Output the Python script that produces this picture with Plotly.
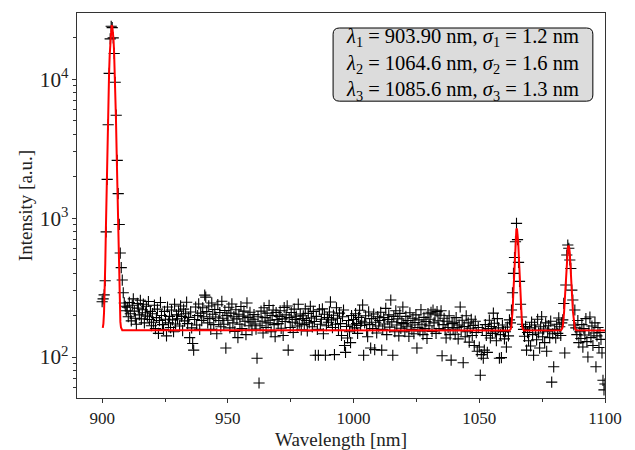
import plotly.graph_objects as go

# ---------------- data ----------------
wl_start = 900.0
wl_step = 0.4

intensity = [
    250, 262, 280, 354, 795, 1900, 4700, 11000, 19500, 24000, 23500, 19800, 15300, 9500, 5500, 2600, 1500, 900, 560, 440, 358, 290, 245, 232, 215,
    228, 195, 247, 205, 182, 236, 262, 214, 190, 172, 243, 225, 201, 256, 188, 219, 240, 176, 208, 232, 197, 251, 186, 213, 168,
    205, 178, 236, 160, 192, 221, 148, 183, 247, 199, 171, 158, 213, 187, 142, 229, 176, 196, 163, 218, 185, 152, 240, 173, 201,
    188, 214, 167, 233, 196, 155, 221, 182, 205, 248, 174, 193, 138, 211, 162, 125, 112, 186, 229, 170, 199, 241, 158, 207, 183,
    226, 195, 279, 270, 212, 176, 233, 189, 158, 245, 203, 171, 220, 194, 147, 238, 183, 209, 165, 252, 190, 172, 216, 116, 199,
    184, 228, 162, 207, 241, 176, 195, 153, 219, 188, 138, 203, 172, 231, 160, 197, 214, 181, 145, 245, 192, 168, 210, 179, 156,
    187, 202, 173, 159, 98, 195, 65, 168, 214, 181, 149, 226, 192, 163, 207, 176, 235, 184, 152, 199, 218, 171, 140, 209, 186,
    174, 196, 215, 161, 188, 143, 227, 180, 201, 233, 112, 192, 163, 209, 178, 150, 221, 186, 197, 167, 240, 175, 204, 157, 189,
    198, 171, 222, 183, 154, 206, 176, 232, 191, 165, 213, 180, 103, 196, 158, 103, 219, 172, 187, 222, 147, 203, 103, 168, 192,
    178, 211, 249, 185, 163, 200, 104, 172, 226, 190, 156, 207, 174, 143, 195, 218, 121, 108, 166, 137, 183, 152, 127, 199, 170,
    186, 162, 205, 174, 148, 193, 217, 169, 181, 237, 103, 176, 198, 155, 140, 211, 171, 116, 189, 160, 204, 113, 178, 149, 195,
    167, 183, 210, 112, 158, 192, 173, 224, 145, 186, 201, 164, 257, 179, 103, 196, 152, 215, 170, 188, 142, 206, 161, 177, 229,
    174, 152, 196, 165, 183, 141, 208, 170, 158, 190, 147, 177, 201, 116, 163, 185, 154, 219, 172, 145, 193, 160, 180, 136, 205,
    168, 187, 210, 153, 218, 176, 204, 148, 212, 182, 160, 200, 215, 102, 171, 190, 157, 137, 181, 163, 198, 145, 95, 174, 159,
    178, 146, 192, 163, 135, 170, 229, 155, 184, 91, 166, 140, 198, 152, 176, 128, 161, 187, 143, 169, 121, 181, 150, 110, 163,
    118, 74, 104, 156, 98, 112, 171, 143, 108, 160, 184, 137, 166, 148, 207, 175, 152, 131, 189, 162, 98, 145, 99, 170, 153,
    135, 152, 118, 164, 142, 185, 176, 218, 290, 400, 520, 676, 916, 700, 480, 350, 240, 194, 172, 158, 141, 166, 112, 150, 131,
    162, 120, 178, 145, 103, 170, 156, 133, 187, 149, 116, 165, 195, 140, 159, 127, 176, 110, 152, 168, 138, 181, 66, 147, 85,
    158, 137, 172, 148, 191, 165, 143, 176, 185, 243, 107, 330, 542, 640, 606, 499, 434, 303, 257, 170, 218, 162, 145, 183, 127,
    152, 136, 171, 118, 160, 144, 189, 129, 100, 155, 194, 138, 167, 121, 149, 176, 85, 142, 163, 117, 150, 134, 107, 68, 58, 64,
]
wavelength = [round(wl_start + wl_step * i, 2) for i in range(len(intensity))]

# fitted model curve
fit1_x = [round(900.25 + 0.25 * i, 2) for i in range(32)]
fit1_y = [162, 174, 208, 290, 473, 848, 1555, 2767, 4670, 7387, 10875, 14865, 18835, 22125, 24070,
          24255, 22635, 19575, 15685, 11645, 8029, 5150, 3086, 1749, 957, 529, 316, 219, 179, 163, 158, 156]
fit2_x = [round(1062.0 + 0.25 * i, 2) for i in range(24)]
fit2_y = [155, 156, 159, 166, 183, 216, 276, 368, 491, 629, 754, 831, 839, 774, 656, 518, 390, 292,
          226, 188, 169, 160, 157, 155]
fit3_x = [round(1082.5 + 0.25 * i, 2) for i in range(25)]
fit3_y = [156, 158, 161, 169, 185, 213, 256, 318, 395, 480, 559, 615, 635, 615, 559, 480, 395, 318,
          256, 213, 185, 169, 161, 158, 156]
fit_end_x = [1100.0]
fit_end_y = [155]

fit_x = fit1_x + fit2_x + fit3_x + fit_end_x
fit_y = fit1_y + fit2_y + fit3_y + fit_end_y

legend_lines = [
    "<i>λ</i><sub>1</sub> = 903.90 nm, <i>σ</i><sub>1</sub> = 1.2 nm",
    "<i>λ</i><sub>2</sub> = 1064.6 nm, <i>σ</i><sub>2</sub> = 1.6 nm",
    "<i>λ</i><sub>3</sub> = 1085.6 nm, <i>σ</i><sub>3</sub> = 1.3 nm",
]

x_title = "Wavelength [nm]"
y_title = "Intensity [a.u.]"
x_ticks = [900, 950, 1000, 1050, 1100]

# ---------------- figure ----------------
FONT = "Liberation Serif"

fig = go.Figure()
fig.add_trace(go.Scatter(
    x=wavelength, y=intensity, mode="markers",
    marker=dict(symbol="cross-thin", size=8, line=dict(color="black", width=1.1), color="black"),
    showlegend=False,
))
fig.add_trace(go.Scatter(
    x=fit_x, y=fit_y, mode="lines",
    line=dict(color="#ff0000", width=2),
    showlegend=False,
))

# rounded text box
x0, x1, y0, y1 = 0.485, 0.977, 0.771, 0.961
rx, ry = 0.012, 0.016
path = (f"M {x0+rx},{y0} L {x1-rx},{y0} Q {x1},{y0} {x1},{y0+ry} "
        f"L {x1},{y1-ry} Q {x1},{y1} {x1-rx},{y1} L {x0+rx},{y1} Q {x0},{y1} {x0},{y1-ry} "
        f"L {x0},{y0+ry} Q {x0},{y0} {x0+rx},{y0} Z")
fig.add_shape(type="path", path=path, xref="paper", yref="paper",
              fillcolor="#dcdcdc", line=dict(color="black", width=1))
fig.add_annotation(
    x=(x0 + x1) / 2, y=(y0 + y1) / 2, xref="paper", yref="paper",
    text="<br>".join(legend_lines), showarrow=False, align="left",
    font=dict(family=FONT, size=20.5, color="black"),
    xanchor="center", yanchor="middle",
)

axis_common = dict(
    showgrid=False, zeroline=False, showline=True, linecolor="#333333", linewidth=1.2,
    mirror=True, ticks="outside", ticklen=4, tickwidth=1, tickcolor="#333333",
    tickfont=dict(family=FONT, size=17, color="#222222"), automargin=False,
)

fig.update_xaxes(
    range=[890, 1100], tickvals=x_ticks,
    title=dict(text=x_title, font=dict(family=FONT, size=19, color="#222222"), standoff=6),
    minor=dict(ticks="outside", ticklen=2.5, tickcolor="#333333", dtick=25, tick0=900),
    **axis_common,
)
fig.update_yaxes(
    type="log", range=[1.705, 4.476], dtick=1, exponentformat="power",
    title=dict(text=y_title, font=dict(family=FONT, size=19, color="#222222"), standoff=2),
    minor=dict(ticks="outside", ticklen=2.5, tickcolor="#333333", dtick="D1"),
    **axis_common,
)

fig.update_layout(
    width=635, height=450,
    margin=dict(l=77, r=30, t=13, b=52),
    plot_bgcolor="white", paper_bgcolor="white",
    font=dict(family=FONT),
)

fig.write_html("out.html")
